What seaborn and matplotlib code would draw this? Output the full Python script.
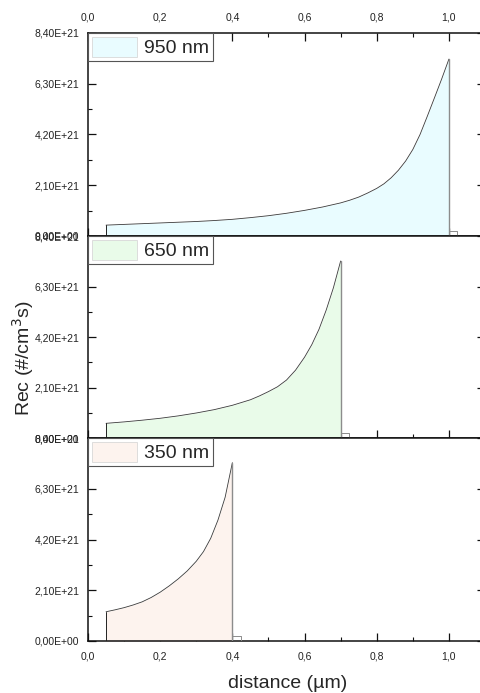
import matplotlib
matplotlib.use("Agg")
import matplotlib.pyplot as plt
import seaborn as sns
import pandas as pd
from matplotlib.patches import Patch
from matplotlib.ticker import MultipleLocator, FuncFormatter, FixedLocator

# Recombination rate profiles (#/cm^3 s) versus depth (µm) for three wavelengths
labels = ["950 nm", "650 nm", "350 nm"]
fill_colors = ["#E9FCFF", "#E9FBE9", "#FDF3EE"]

x950 = [0.05, 0.1, 0.15, 0.2, 0.25, 0.3, 0.35, 0.4, 0.45, 0.5, 0.55, 0.6, 0.65, 0.7,
        0.725, 0.75, 0.775, 0.8, 0.82, 0.84, 0.86, 0.88, 0.9, 0.92, 0.94, 0.96, 0.98, 1.0]
r950 = [0.45e21, 0.48e21, 0.51e21, 0.54e21, 0.57e21, 0.60e21, 0.64e21, 0.69e21, 0.76e21,
        0.84e21, 0.94e21, 1.06e21, 1.20e21, 1.37e21, 1.48e21, 1.61e21, 1.78e21, 1.97e21,
        2.16e21, 2.41e21, 2.72e21, 3.10e21, 3.58e21, 4.20e21, 4.95e21, 5.72e21, 6.50e21,
        7.32e21]

x650 = [0.05, 0.1, 0.15, 0.2, 0.25, 0.3, 0.35, 0.4, 0.45, 0.475, 0.5, 0.525, 0.55, 0.575,
        0.6, 0.62, 0.64, 0.66, 0.68, 0.7]
r650 = [0.61e21, 0.67e21, 0.74e21, 0.82e21, 0.92e21, 1.04e21, 1.18e21, 1.36e21, 1.59e21,
        1.75e21, 1.93e21, 2.13e21, 2.41e21, 2.82e21, 3.36e21, 3.88e21, 4.52e21, 5.32e21,
        6.25e21, 7.36e21]

x350 = [0.05, 0.075, 0.1, 0.125, 0.15, 0.175, 0.2, 0.225, 0.25, 0.275, 0.3, 0.32, 0.34,
        0.36, 0.38, 0.4]
r350 = [1.21e21, 1.29e21, 1.38e21, 1.49e21, 1.62e21, 1.80e21, 2.02e21, 2.28e21, 2.57e21,
        2.90e21, 3.30e21, 3.70e21, 4.25e21, 5.00e21, 5.95e21, 7.38e21]

# narrow low shelf just past each absorber edge
shelf_width = 0.023
shelf_level = [0.21e21, 0.20e21, 0.21e21]

series = [(x950, r950), (x650, r650), (x350, r350)]

y_ticks = [0.0, 2.1e21, 4.2e21, 6.3e21, 8.4e21]
x_ticks = [0.0, 0.2, 0.4, 0.6, 0.8, 1.0]

sns.set_theme(style="ticks")
plt.rcParams["font.family"] = ["Liberation Sans", "DejaVu Sans"]

W, H = 480, 693
fig = plt.figure(figsize=(W / 100, H / 100), dpi=100)

left_px, right_px = 88, 485
bounds_px = [(33, 236), (236, 438), (438, 641)]

sci_fmt = FuncFormatter(lambda v, p: f"{v:.2E}".replace(".", ","))
dec_fmt = FuncFormatter(lambda v, p: f"{v:.1f}".replace(".", ","))


def draw_line(ax, xs, ys, color, lw):
    d = pd.DataFrame({"x": xs, "r": ys})
    sns.lineplot(data=d, x="x", y="r", ax=ax, color=color, linewidth=lw,
                 sort=False, estimator=None, zorder=3)


for i, ((xs, rs), lab, col) in enumerate(zip(series, labels, fill_colors)):
    top_px, bot_px = bounds_px[i]
    ax = fig.add_axes([left_px / W, 1 - bot_px / H,
                       (right_px - left_px) / W, (bot_px - top_px) / H])

    peak_x = xs[-1]
    ax.fill_between(xs, 0, rs, color=col, linewidth=0, zorder=1)

    # profile curve
    draw_line(ax, xs, rs, "#3a3a3a", 0.6)
    # left edge of the profile
    draw_line(ax, [xs[0], xs[0]], [0, rs[0]], "#222222", 0.7)
    # drop at the absorber edge
    draw_line(ax, [peak_x, peak_x], [rs[-1], 0], "#8c8c8c", 1.0)
    # shelf
    draw_line(ax, [peak_x, peak_x + shelf_width, peak_x + shelf_width],
              [shelf_level[i], shelf_level[i], 0], "#8c8c8c", 0.7)

    ax.set_xlim(0, 1.1)
    ax.set_ylim(0, 8.4e21)
    ax.xaxis.set_major_locator(FixedLocator(x_ticks))
    ax.xaxis.set_minor_locator(MultipleLocator(0.1))
    ax.yaxis.set_major_locator(FixedLocator(y_ticks))
    ax.yaxis.set_minor_locator(MultipleLocator(1.05e21))
    ax.xaxis.set_major_formatter(dec_fmt)
    ax.yaxis.set_major_formatter(sci_fmt)
    ax.set_xlabel("")
    ax.set_ylabel("")

    for s in ax.spines.values():
        s.set_linewidth(1.1)
        s.set_color("#111111")

    ax.tick_params(which="both", direction="in", colors="#111111",
                   left=True, right=True, bottom=True, top=(i == 0),
                   labelleft=True, labelright=False,
                   labeltop=(i == 0), labelbottom=(i == 2))
    ax.tick_params(which="major", length=5.8, width=0.9, labelsize=7.5, pad=6.3)
    ax.tick_params(which="minor", length=3.0, width=0.8)
    ax.tick_params(axis="x", which="major", pad=7.5)
    for t in ax.get_xticklabels() + ax.get_yticklabels():
        t.set_color("#222222")

    handle = Patch(facecolor=col, edgecolor="#d8d8d8", linewidth=0.6)
    leg = ax.legend([handle], [lab], loc="upper left", borderaxespad=0,
                    fontsize=14, frameon=True, fancybox=False, framealpha=1,
                    edgecolor="#555555", borderpad=0.18, handlelength=2.35,
                    handleheight=1.25, handletextpad=0.35)
    leg.get_frame().set_linewidth(0.8)
    leg.set_zorder(6)

fig.text(23 / W, 1 - 358 / H, "Rec (#/cm$^3$s)", rotation=90, ha="center",
         va="center", fontsize=14)
fig.text(288 / W, 1 - 688 / H, "distance (µm)", ha="center", va="baseline",
         fontsize=14)

fig.savefig("out.png", dpi=100)
